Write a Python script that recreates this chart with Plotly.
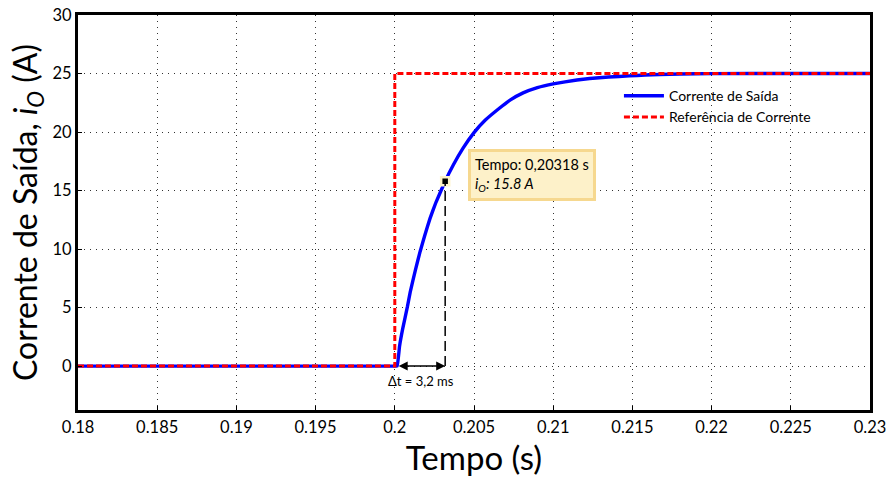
import plotly.graph_objects as go

# Data
t_out = [0.18, 0.19, 0.2, 0.20015, 0.2003, 0.2005, 0.2008, 0.20097, 0.2013, 0.2016, 0.2019,
         0.20222, 0.2026, 0.20318, 0.2037, 0.2043, 0.205, 0.2057, 0.20662, 0.2073, 0.2081,
         0.209, 0.21, 0.2115, 0.2123, 0.2135, 0.2148, 0.2158, 0.2167, 0.218, 0.22, 0.225, 0.23]
i_out = [0, 0, 0, 0.0, 1.7, 3.2, 5.1, 6.3, 8.2, 9.8, 11.2,
         12.6, 14.0, 15.8, 17.2, 18.6, 19.95, 21.0, 22.05, 22.75, 23.35,
         23.8, 24.12, 24.45, 24.57, 24.7, 24.8, 24.87, 24.92, 24.96, 24.99, 25.0, 25.0]
t_ref = [0.18, 0.19, 0.2, 0.2, 0.21, 0.23]
i_ref = [0, 0, 0, 25, 25, 25]

tip_t = 0.20318
tip_i = 15.8
step_t = 0.20015

x_ticks = [0.18, 0.185, 0.19, 0.195, 0.2, 0.205, 0.21, 0.215, 0.22, 0.225, 0.23]
x_labels = ["0.18", "0.185", "0.19", "0.195", "0.2", "0.205", "0.21", "0.215", "0.22", "0.225", "0.23"]
y_ticks = [0, 5, 10, 15, 20, 25, 30]

FONT = "Lato"

fig = go.Figure()
fig.add_trace(go.Scatter(x=t_out, y=i_out, mode="lines", name="Corrente de Saída",
                         line=dict(color="#0000ff", width=3.4, shape="spline", smoothing=0.3)))
fig.add_trace(go.Scatter(x=t_ref, y=i_ref, mode="lines", name="Referência de Corrente",
                         line=dict(color="#ff0000", width=3, dash="6px,3px")))

# dashed vertical marker line
fig.add_shape(type="line", x0=tip_t, x1=tip_t, y0=0, y1=tip_i,
              line=dict(color="black", width=1.5, dash="10px,5px"))
# data point marker
fig.add_trace(go.Scatter(x=[tip_t], y=[tip_i], mode="markers", showlegend=False,
                         marker=dict(symbol="square", size=8, color="black",
                                     line=dict(color="#fff3c8", width=2.5))))
# double arrow for delta t
fig.add_annotation(x=tip_t, y=0, ax=step_t, ay=0, xref="x", yref="y",
                   axref="x", ayref="y", text="", showarrow=True,
                   arrowhead=2, startarrowhead=2, arrowside="end+start",
                   arrowsize=1.2, arrowwidth=1.5, arrowcolor="black")
fig.add_annotation(x=(tip_t + step_t) / 2, y=0, xref="x", yref="y", yshift=-15,
                   text="Δt = 3,2 ms", showarrow=False,
                   font=dict(family=FONT, size=13, color="black"))
# data tip box
fig.add_annotation(x=0.20465, y=tip_i + 0.55, xref="x", yref="y", xanchor="left",
                   yanchor="middle", align="left", showarrow=False,
                   text="Tempo: 0,20318 s<br><i>i<sub>O</sub>: 15.8 A</i>",
                   font=dict(family=FONT, size=14.5, color="black"),
                   bgcolor="#fdf1c9", bordercolor="#f6d88f", borderwidth=3, borderpad=4)

axis_common = dict(showline=True, linecolor="black", linewidth=3, mirror=True,
                   ticks="inside", ticklen=4, tickcolor="black", tickwidth=1,
                   showgrid=True, gridcolor="#333333", gridwidth=1, griddash="1px,5px",
                   zeroline=False, automargin=False,
                   tickfont=dict(family=FONT, size=16.5, color="black"))

fig.update_xaxes(range=[0.18, 0.23], tickvals=x_ticks, ticktext=x_labels,
                 title=dict(text="Tempo (s)", font=dict(family=FONT, size=33, color="black"),
                            standoff=10), **axis_common)
fig.update_yaxes(range=[-3.75, 30], tickvals=y_ticks,
                 title=dict(text="Corrente de Saída, <i>i<sub>O</sub></i> (A)",
                            font=dict(family=FONT, size=32, color="black"), standoff=6),
                 **axis_common)

fig.update_layout(width=893, height=488, margin=dict(l=78, r=23, t=15, b=78),
                  plot_bgcolor="white", paper_bgcolor="white",
                  legend=dict(x=0.683, y=0.835, xanchor="left", yanchor="top",
                              bgcolor="rgba(0,0,0,0)", borderwidth=0,
                              font=dict(family=FONT, size=14, color="black"),
                              tracegroupgap=0, itemwidth=40))

fig.write_html("out.html")
